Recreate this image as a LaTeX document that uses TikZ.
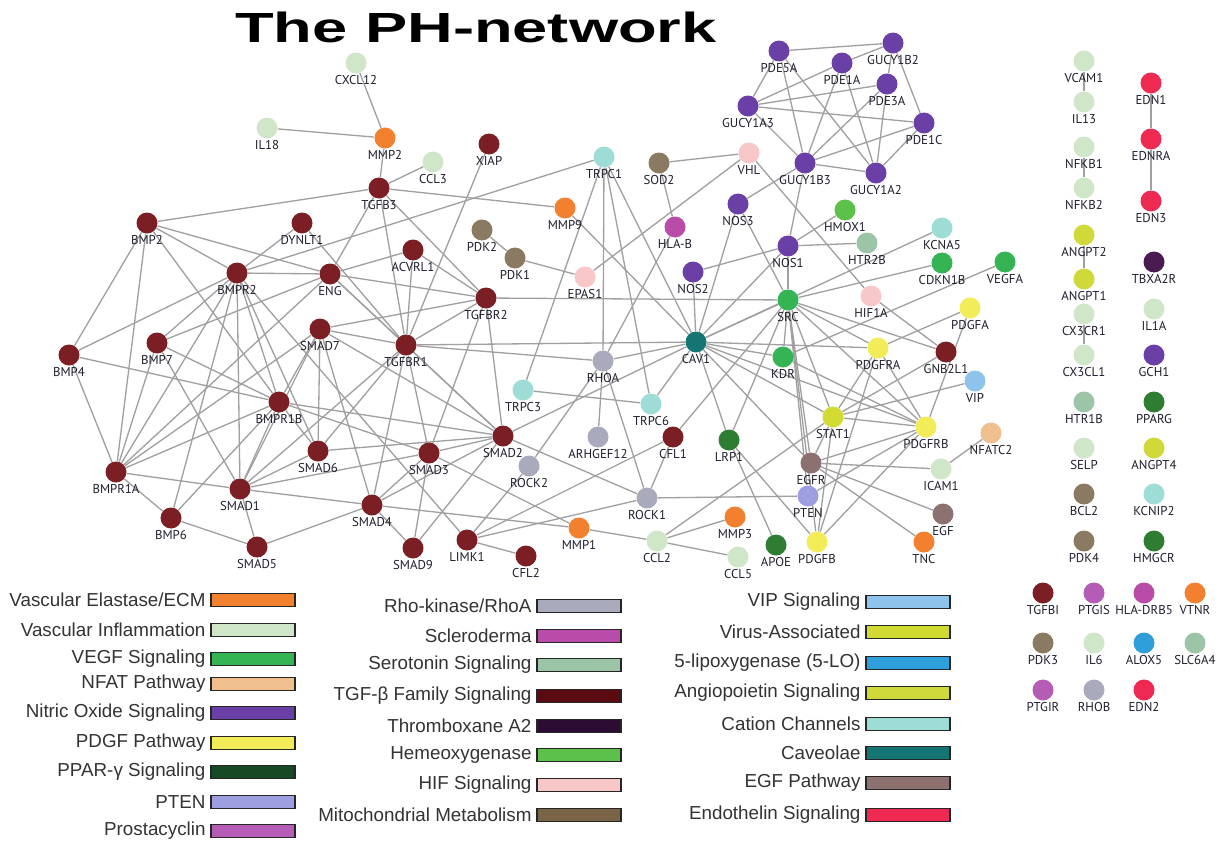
\documentclass[tikz,border=0pt]{standalone}
\usepackage{fontspec}
\setmainfont{Liberation Sans}
\newfontfamily\genefont{PT Sans}
\usepackage{graphicx}
\usepackage{xcolor}
\usepackage{tikz}
\usetikzlibrary{backgrounds}

\definecolor{tgf}{HTML}{7B1F24}
\definecolor{tgfkey}{HTML}{5A0A10}
\definecolor{infl}{HTML}{CFE6C8}
\definecolor{ecm}{HTML}{F2802E}
\definecolor{vegf}{HTML}{35B454}
\definecolor{nfat}{HTML}{EFC08E}
\definecolor{nos}{HTML}{6A3FA6}
\definecolor{pdgf}{HTML}{F1EC57}
\definecolor{ppar}{HTML}{2E7D32}
\definecolor{pparkey}{HTML}{154A24}
\definecolor{pten}{HTML}{9D9FE0}
\definecolor{prost}{HTML}{B45CB6}
\definecolor{rho}{HTML}{A9ABBD}
\definecolor{scl}{HTML}{B84CA8}
\definecolor{sero}{HTML}{9CC5A7}
\definecolor{thromb}{HTML}{4B1A52}
\definecolor{thrombkey}{HTML}{2C0C32}
\definecolor{hemox}{HTML}{5CC14A}
\definecolor{hif}{HTML}{F8C8C8}
\definecolor{mito}{HTML}{8A7A62}
\definecolor{mitokey}{HTML}{7A6448}
\definecolor{vip}{HTML}{8EC3EC}
\definecolor{virus}{HTML}{D2DB32}
\definecolor{lox}{HTML}{2E9FDB}
\definecolor{angpt}{HTML}{D0D93A}
\definecolor{cation}{HTML}{9EDCD6}
\definecolor{cav}{HTML}{157572}
\definecolor{egf}{HTML}{8D7070}
\definecolor{edn}{HTML}{EE2A52}
\definecolor{linkgray}{HTML}{A0A0A0}
\definecolor{genetext}{HTML}{1F1F2E}
\definecolor{legtext}{HTML}{333333}

\begin{document}
\begin{tikzpicture}[x=0.02cm, y=-0.02cm,
  gene/.style={circle, minimum size=0.42cm, inner sep=0pt, fill=#1},
  link/.style={draw=linkgray, line width=0.75pt},
  key/.style={draw=black!85, line width=0.9pt, minimum width=1.68cm, minimum height=0.26cm, inner sep=0pt, fill=#1},
  legtxt/.style={font=\fontsize{10.7}{12}\selectfont, text=legtext},
  every label/.style={font=\genefont\fontsize{7.3}{8}\selectfont, text=genetext, inner sep=0pt},
  label distance=0.6pt]

  \useasboundingbox (0,0) rectangle (1220,842);

  \node[font=\bfseries\fontsize{24}{28}\selectfont] (TITLE) at (476,27) {\scalebox{1.5}[1]{The PH-network}};

  % TGF-beta family
  \node[gene=tgf, label=below:BMP2] (BMP2) at (147,223) {};
  \node[gene=tgf, label=below:DYNLT1] (DYNLT1) at (302,223) {};
  \node[gene=tgf, label=below:BMPR2] (BMPR2) at (237,273) {};
  \node[gene=tgf, label=below:ENG] (ENG) at (330,274) {};
  \node[gene=tgf, label=below:ACVRL1] (ACVRL1) at (413,250) {};
  \node[gene=tgf, label=below:TGFB3] (TGFB3) at (379,188) {};
  \node[gene=tgf, label=below:XIAP] (XIAP) at (489,144) {};
  \node[gene=tgf, label=below:TGFBR2] (TGFBR2) at (486,298) {};
  \node[gene=tgf, label=below:TGFBR1] (TGFBR1) at (406,345) {};
  \node[gene=tgf, label=below:SMAD7] (SMAD7) at (320,329) {};
  \node[gene=tgf, label=below:BMP7] (BMP7) at (157,343) {};
  \node[gene=tgf, label=below:BMP4] (BMP4) at (69,355) {};
  \node[gene=tgf, label=below:BMPR1B] (BMPR1B) at (279,402) {};
  \node[gene=tgf, label=below:SMAD6] (SMAD6) at (318,451) {};
  \node[gene=tgf, label=below:SMAD3] (SMAD3) at (429,453) {};
  \node[gene=tgf, label=below:SMAD2] (SMAD2) at (503,436) {};
  \node[gene=tgf, label=below:BMPR1A] (BMPR1A) at (116,472) {};
  \node[gene=tgf, label=below:SMAD1] (SMAD1) at (240,489) {};
  \node[gene=tgf, label=below:SMAD4] (SMAD4) at (372,505) {};
  \node[gene=tgf, label=below:BMP6] (BMP6) at (171,518) {};
  \node[gene=tgf, label=below:SMAD5] (SMAD5) at (257,547) {};
  \node[gene=tgf, label=below:SMAD9] (SMAD9) at (413,548) {};
  \node[gene=tgf, label=below:LIMK1] (LIMK1) at (467,540) {};
  \node[gene=tgf, label=below:CFL2] (CFL2) at (526,556) {};
  \node[gene=tgf, label=below:CFL1] (CFL1) at (673,437) {};
  \node[gene=tgf, label=below:GNB2L1] (GNB2L1) at (946,352) {};

  % inflammation, ECM, mitochondria
  \node[gene=infl, label=below:IL18] (IL18) at (267,128) {};
  \node[gene=infl, label=below:CXCL12] (CXCL12) at (356,63) {};
  \node[gene=infl, label=below:CCL3] (CCL3) at (433,162) {};
  \node[gene=infl, label=below:CCL2] (CCL2) at (657,541) {};
  \node[gene=infl, label=below:CCL5] (CCL5) at (738,557) {};
  \node[gene=infl, label=below:ICAM1] (ICAM1) at (941,469) {};
  \node[gene=ecm, label=below:MMP2] (MMP2) at (385,138) {};
  \node[gene=ecm, label=below:MMP9] (MMP9) at (565,208) {};
  \node[gene=ecm, label=below:MMP1] (MMP1) at (579,528) {};
  \node[gene=ecm, label=below:MMP3] (MMP3) at (735,517) {};
  \node[gene=ecm, label=below:TNC] (TNC) at (924,542) {};
  \node[gene=mito, label=below:SOD2] (SOD2) at (659,163) {};
  \node[gene=mito, label=below:PDK2] (PDK2) at (482,230) {};
  \node[gene=mito, label=below:PDK1] (PDK1) at (515,258) {};

  % channels, HIF, Rho
  \node[gene=cation, label=below:TRPC1] (TRPC1) at (604,157) {};
  \node[gene=cation, label=below:TRPC3] (TRPC3) at (523,390) {};
  \node[gene=cation, label=below:TRPC6] (TRPC6) at (651,404) {};
  \node[gene=cation, label=below:KCNA5] (KCNA5) at (942,228) {};
  \node[gene=hif, label=below:VHL] (VHL) at (749,153) {};
  \node[gene=hif, label=below:EPAS1] (EPAS1) at (585,277) {};
  \node[gene=hif, label=below:HIF1A] (HIF1A) at (871,296) {};
  \node[gene=scl, label=below:HLA-B] (HLAB) at (675,227) {};
  \node[gene=rho, label=below:RHOA] (RHOA) at (603,361) {};
  \node[gene=rho, label=below:ARHGEF12] (ARHGEF12) at (598,437) {};
  \node[gene=rho, label=below:ROCK2] (ROCK2) at (529,466) {};
  \node[gene=rho, label=below:ROCK1] (ROCK1) at (647,498) {};

  % nitric oxide
  \node[gene=nos, label=below:PDE5A] (PDE5A) at (779,51) {};
  \node[gene=nos, label=below:GUCY1B2] (GUCY1B2) at (893,43) {};
  \node[gene=nos, label=below:PDE1A] (PDE1A) at (842,63) {};
  \node[gene=nos, label=below:PDE3A] (PDE3A) at (887,84) {};
  \node[gene=nos, label=below:GUCY1A3] (GUCY1A3) at (748,106) {};
  \node[gene=nos, label=below:PDE1C] (PDE1C) at (924,123) {};
  \node[gene=nos, label=below:GUCY1B3] (GUCY1B3) at (805,163) {};
  \node[gene=nos, label=below:GUCY1A2] (GUCY1A2) at (876,173) {};
  \node[gene=nos, label=below:NOS3] (NOS3) at (738,204) {};
  \node[gene=nos, label=below:NOS1] (NOS1) at (788,246) {};
  \node[gene=nos, label=below:NOS2] (NOS2) at (693,272) {};

  % growth factors
  \node[gene=hemox, label=below:HMOX1] (HMOX1) at (845,210) {};
  \node[gene=sero, label=below:HTR2B] (HTR2B) at (867,243) {};
  \node[gene=vegf, label=below:CDKN1B] (CDKN1B) at (942,263) {};
  \node[gene=vegf, label=below:VEGFA] (VEGFA) at (1005,262) {};
  \node[gene=vegf, label=below:SRC] (SRC) at (788,300) {};
  \node[gene=vegf, label=below:KDR] (KDR) at (783,357) {};
  \node[gene=cav, label=below:CAV1] (CAV1) at (696,342) {};
  \node[gene=pdgf, label=below:PDGFA] (PDGFA) at (970,308) {};
  \node[gene=pdgf, label=below:PDGFRA] (PDGFRA) at (878,348) {};
  \node[gene=pdgf, label=below:PDGFRB] (PDGFRB) at (926,427) {};
  \node[gene=pdgf, label=below:PDGFB] (PDGFB) at (817,542) {};
  \node[gene=vip, label=below:VIP] (VIP) at (975,381) {};
  \node[gene=virus, label=below:STAT1] (STAT1) at (833,417) {};
  \node[gene=nfat, label=below:NFATC2] (NFATC2) at (991,433) {};
  \node[gene=egf, label=below:EGFR] (EGFR) at (811,463) {};
  \node[gene=egf, label=below:EGF] (EGF) at (943,514) {};
  \node[gene=pten, label=below:PTEN] (PTEN) at (808,496) {};
  \node[gene=ppar, label=below:LRP1] (LRP1) at (729,440) {};
  \node[gene=ppar, label=below:APOE] (APOE) at (776,545) {};

  % unconnected and small groups
  \node[gene=infl, label=below:VCAM1] (VCAM1) at (1084,61) {};
  \node[gene=infl, label=below:IL13] (IL13) at (1084,102) {};
  \node[gene=infl, label=below:NFKB1] (NFKB1) at (1084,147) {};
  \node[gene=infl, label=below:NFKB2] (NFKB2) at (1084,188) {};
  \node[gene=angpt, label=below:ANGPT2] (ANGPT2) at (1084,235) {};
  \node[gene=angpt, label=below:ANGPT1] (ANGPT1) at (1084,279) {};
  \node[gene=infl, label=below:CX3CR1] (CX3CR1) at (1084,314) {};
  \node[gene=infl, label=below:CX3CL1] (CX3CL1) at (1084,355) {};
  \node[gene=sero, label=below:HTR1B] (HTR1B) at (1084,402) {};
  \node[gene=infl, label=below:SELP] (SELP) at (1084,448) {};
  \node[gene=mito, label=below:BCL2] (BCL2) at (1084,494) {};
  \node[gene=mito, label=below:PDK4] (PDK4) at (1084,541) {};
  \node[gene=edn, label=below:EDN1] (EDN1) at (1151,83) {};
  \node[gene=edn, label=below:EDNRA] (EDNRA) at (1151,139) {};
  \node[gene=edn, label=below:EDN3] (EDN3) at (1151,201) {};
  \node[gene=thromb, label=below:TBXA2R] (TBXA2R) at (1154,262) {};
  \node[gene=infl, label=below:IL1A] (IL1A) at (1154,309) {};
  \node[gene=nos, label=below:GCH1] (GCH1) at (1154,355) {};
  \node[gene=ppar, label=below:PPARG] (PPARG) at (1154,402) {};
  \node[gene=angpt, label=below:ANGPT4] (ANGPT4) at (1154,448) {};
  \node[gene=cation, label=below:KCNIP2] (KCNIP2) at (1154,494) {};
  \node[gene=ppar, label=below:HMGCR] (HMGCR) at (1154,541) {};
  \node[gene=tgf, label=below:TGFBI] (TGFBI) at (1043,593) {};
  \node[gene=prost, label=below:PTGIS] (PTGIS) at (1094,593) {};
  \node[gene=scl, label=below:HLA-DRB5] (HLADRB5) at (1144,593) {};
  \node[gene=ecm, label=below:VTNR] (VTNR) at (1195,593) {};
  \node[gene=mito, label=below:PDK3] (PDK3) at (1043,643) {};
  \node[gene=infl, label=below:IL6] (IL6) at (1094,643) {};
  \node[gene=lox, label=below:ALOX5] (ALOX5) at (1144,643) {};
  \node[gene=sero, label=below:SLC6A4] (SLC6A4) at (1195,643) {};
  \node[gene=prost, label=below:PTGIR] (PTGIR) at (1043,690) {};
  \node[gene=rho, label=below:RHOB] (RHOB) at (1094,690) {};
  \node[gene=edn, label=below:EDN2] (EDN2) at (1144,690) {};

  \begin{scope}[on background layer]
    \fill[white] (0,0) rectangle (1220,842);
    \draw[link] (IL18) edge (MMP2);
    \draw[link] (CXCL12) edge (MMP2);
    \draw[link] (MMP2) edge (TGFB3);
    \draw[link] (CCL3) edge (TGFB3);
    \draw[link] (TGFB3) edge (BMP2) edge (MMP9) edge (ENG) edge (TGFBR1) edge (TGFBR2);
    \draw[link] (XIAP) edge (TGFBR1);
    \draw[link] (BMP2) edge (BMPR2) edge (BMP4) edge (BMPR1A) edge (BMPR1B) edge (ENG);
    \draw[link] (BMP4) edge (BMPR2) edge (BMPR1A) edge (BMPR1B);
    \draw[link] (BMP7) edge (BMPR2) edge (ENG) edge (BMPR1A) edge (BMPR1B) edge (SMAD1);
    \draw[link] (BMP6) edge (BMPR1A) edge (BMPR2) edge (BMPR1B) edge (SMAD5);
    \draw[link] (BMPR2) edge (DYNLT1) edge (ENG) edge (BMPR1A) edge (BMPR1B) edge (SMAD1) edge (SMAD6) edge (TRPC1) edge (LIMK1);
    \draw[link] (DYNLT1) edge (TGFBR1);
    \draw[link] (ENG) edge (ACVRL1) edge (TGFBR2) edge (TGFBR1) edge (SMAD2) edge (BMPR1A);
    \draw[link] (ACVRL1) edge (TGFBR2) edge (TGFBR1);
    \draw[link] (TGFBR2) edge (TGFBR1) edge (SMAD2) edge (SMAD3) edge (SMAD7) edge (SRC);
    \draw[link] (TGFBR1) edge (SMAD2) edge (SMAD3) edge (SMAD4) edge (SMAD7) edge (SMAD6) edge (SMAD1) edge (CAV1) edge (RHOA);
    \draw[link] (SMAD7) edge (BMPR1A) edge (BMPR1B) edge (SMAD6) edge (SMAD2) edge (SMAD4) edge (SMAD1);
    \draw[link] (SMAD6) edge (BMPR1B) edge (SMAD1) edge (SMAD2);
    \draw[link] (SMAD3) edge (SMAD2) edge (SMAD4) edge (SMAD9) edge (MMP1) edge (BMPR1B) edge (SMAD1);
    \draw[link] (SMAD2) edge (SMAD4) edge (BMPR1B) edge (ROCK1) edge (CAV1) edge (SMAD9);
    \draw[link] (SMAD4) edge (SMAD1) edge (SMAD5) edge (SMAD9) edge (MMP1);
    \draw[link] (SMAD1) edge (SMAD5) edge (BMPR1A) edge (BMPR1B);
    \draw[link] (BMPR1A) edge (BMPR1B);
    \draw[link] (LIMK1) edge (ROCK1) edge (ROCK2) edge (CFL1) edge (CFL2);
    \draw[link] (ROCK1) edge (RHOA) edge (CFL1) edge (PTEN);
    \draw[link] (ROCK2) edge (RHOA);
    \draw[link] (RHOA) edge (TRPC1) edge (ARHGEF12) edge (CAV1);
    \draw[link] (TRPC1) edge (TRPC3) edge (TRPC6) edge (CAV1);
    \draw[link] (TRPC3) edge (TRPC6);
    \draw[link] (TRPC6) edge (CAV1);
    \draw[link] (CFL1) edge (SRC);
    \draw[link] (SOD2) edge (VHL) edge (HLAB);
    \draw[link] (HLAB) edge (RHOA);
    \draw[link] (VHL) edge (EPAS1) edge (HIF1A);
    \draw[link] (PDK2) edge (PDK1);
    \draw[link] (PDK1) edge (EPAS1);
    \draw[link] (MMP9) edge (CAV1);
    \draw[link] (PDE5A) edge (GUCY1B2) edge (GUCY1A3) edge (GUCY1B3) edge (GUCY1A2);
    \draw[link] (PDE1A) edge (GUCY1B2) edge (GUCY1A3) edge (GUCY1B3) edge (GUCY1A2);
    \draw[link] (PDE3A) edge (GUCY1B2) edge (GUCY1A3) edge (GUCY1B3) edge (GUCY1A2);
    \draw[link] (PDE1C) edge (GUCY1B2) edge (GUCY1A3) edge (GUCY1B3) edge (GUCY1A2);
    \draw[link] (GUCY1B3) edge (GUCY1A3) edge (GUCY1A2) edge (NOS3) edge (NOS1);
    \draw[link] (NOS3) edge (CAV1) edge (SRC);
    \draw[link] (NOS1) edge (NOS2) edge (HTR2B) edge (SRC) edge (HMOX1) edge (CAV1);
    \draw[link] (NOS2) edge (CAV1);
    \draw[link] (KCNA5) edge (CAV1);
    \draw[link] (CAV1) edge (SRC) edge (KDR) edge (PDGFRA) edge (EGFR) edge (PDGFRB) edge (STAT1) edge (LRP1);
    \draw[link] (SRC) edge (CDKN1B) edge (KDR) edge (PDGFRA) edge (PDGFRB) edge (EGFR) edge (STAT1) edge (GNB2L1) edge (PTEN) edge (PDGFB) edge (LRP1);
    \draw[link] (VEGFA) edge (KDR);
    \draw[link] (HIF1A) edge (GNB2L1);
    \draw[link] (PDGFA) edge (PDGFRA) edge (PDGFRB);
    \draw[link] (PDGFRA) edge (PDGFRB) edge (STAT1) edge (PDGFB);
    \draw[link] (GNB2L1) edge (STAT1);
    \draw[link] (VIP) edge (STAT1);
    \draw[link] (STAT1) edge (PDGFRB) edge (EGFR) edge (CCL2) edge (PDGFB);
    \draw[link] (PDGFRB) edge (EGFR) edge (PTEN) edge (PDGFB) edge (KDR);
    \draw[link] (EGFR) edge (ICAM1) edge (EGF) edge (TNC);
    \draw[link] (NFATC2) edge (ICAM1);
    \draw[link] (LRP1) edge (APOE) edge (PDGFB);
    \draw[link] (CCL2) edge (MMP1) edge (CCL5) edge (MMP3);
    \draw[link] (VCAM1) edge (IL13);
    \draw[link] (NFKB1) edge (NFKB2);
    \draw[link] (ANGPT2) edge (ANGPT1);
    \draw[link] (CX3CR1) edge (CX3CL1);
    \draw[link] (EDN1) edge (EDNRA);
    \draw[link] (EDNRA) edge (EDN3);
  \end{scope}

  % legend
  \begin{scope}[label distance=2.5pt]
    \node[key=ecm, label={[legtxt]left:Vascular Elastase/ECM}] (kECM) at (253,600) {};
    \node[key=infl, label={[legtxt]left:Vascular Inflammation}] (kINFL) at (253,630) {};
    \node[key=vegf, label={[legtxt]left:VEGF Signaling}] (kVEGF) at (253,659) {};
    \node[key=nfat, label={[legtxt]left:NFAT Pathway}] (kNFAT) at (253,684) {};
    \node[key=nos, label={[legtxt]left:Nitric Oxide Signaling}] (kNOS) at (253,713) {};
    \node[key=pdgf, label={[legtxt]left:PDGF Pathway}] (kPDGF) at (253,743) {};
    \node[key=pparkey, label={[legtxt]left:PPAR-γ Signaling}] (kPPAR) at (253,772) {};
    \node[key=pten, label={[legtxt]left:PTEN}] (kPTEN) at (253,802) {};
    \node[key=prost, label={[legtxt]left:Prostacyclin}] (kPROST) at (253,831) {};

    \node[key=rho, label={[legtxt]left:Rho-kinase/RhoA}] (kRHO) at (579,606) {};
    \node[key=scl, label={[legtxt]left:Scleroderma}] (kSCL) at (579,636) {};
    \node[key=sero, label={[legtxt]left:Serotonin Signaling}] (kSERO) at (579,665) {};
    \node[key=tgfkey, label={[legtxt]left:TGF-β Family Signaling}] (kTGF) at (579,696) {};
    \node[key=thrombkey, label={[legtxt]left:Thromboxane A2}] (kTHROMB) at (579,726) {};
    \node[key=hemox, label={[legtxt]left:Hemeoxygenase}] (kHEMOX) at (579,755) {};
    \node[key=hif, label={[legtxt]left:HIF Signaling}] (kHIF) at (579,785) {};
    \node[key=mitokey, label={[legtxt]left:Mitochondrial Metabolism}] (kMITO) at (579,815) {};

    \node[key=vip, label={[legtxt]left:VIP Signaling}] (kVIP) at (908,602) {};
    \node[key=virus, label={[legtxt]left:Virus-Associated}] (kVIRUS) at (908,632) {};
    \node[key=lox, label={[legtxt]left:5-lipoxygenase (5-LO)}] (kLOX) at (908,663) {};
    \node[key=angpt, label={[legtxt]left:Angiopoietin Signaling}] (kANGPT) at (908,693) {};
    \node[key=cation, label={[legtxt]left:Cation Channels}] (kCATION) at (908,724) {};
    \node[key=cav, label={[legtxt]left:Caveolae}] (kCAV) at (908,753) {};
    \node[key=egf, label={[legtxt]left:EGF Pathway}] (kEGF) at (908,783) {};
    \node[key=edn, label={[legtxt]left:Endothelin Signaling}] (kEDN) at (908,815) {};
  \end{scope}
\end{tikzpicture}
\end{document}
